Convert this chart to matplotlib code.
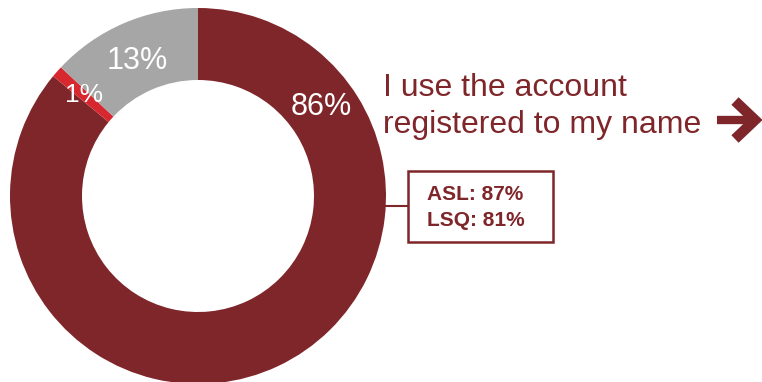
import numpy as np
import matplotlib.pyplot as plt

plt.rcParams['font.family'] = ['Liberation Sans', 'DejaVu Sans']

# account usage shares, clockwise from 12 o'clock
labels = ['Registered to my name', 'Other', 'Someone else']
shares = [86, 1, 13]
colors = ['#7F262A', '#D7282F', '#A6A6A6']

headline = ['I use the account', 'registered to my name']
sub_stats = ['ASL: 87%', 'LSQ: 81%']

dark = '#7F262A'

fig = plt.figure(figsize=(7.62, 3.82), dpi=100)
ax = fig.add_axes([0, 0, 1, 1])
ax.set_xlim(0, 762)
ax.set_ylim(0, 382)
ax.set_aspect('equal')
ax.axis('off')

cx, cy, R, r = 198, 186, 188, 116
wedges, texts, autotexts = ax.pie(
    shares, colors=colors, startangle=90, counterclock=False,
    center=(cx, cy), radius=R, autopct='%d%%', pctdistance=(R + r) / 2 / R,
    wedgeprops=dict(width=R - r, linewidth=0),
    textprops=dict(color='white', fontsize=22))
ax.set_xlim(0, 762)
ax.set_ylim(0, 382)

# big slice label sits near the top-right of the ring
ang = np.deg2rad(90 - 54)
autotexts[0].set_position((cx + (R + r) / 2 * np.cos(ang), cy + (R + r) / 2 * np.sin(ang)))
autotexts[1].set_fontsize(19)
autotexts[2].set_y(autotexts[2].get_position()[1] - 4)

ax.text(383, 286, headline[0], color=dark, fontsize=23, va='baseline', ha='left')
ax.text(383, 249, headline[1], color=dark, fontsize=23, va='baseline', ha='left')

# heavy arrow after the headline
ax.plot([717, 752], [262, 262], color=dark, lw=6, solid_capstyle='butt')
ax.plot([735, 755, 735], [281, 262, 243], color=dark, lw=7.5,
        solid_joinstyle='miter', solid_capstyle='butt')

# callout box
ax.plot([380, 408], [176, 176], color=dark, lw=1.5)
ax.add_patch(plt.Rectangle((408, 140), 145, 71, fill=False, edgecolor=dark, lw=1.8))
ax.text(427, 187, sub_stats[0], color=dark, fontsize=15, fontweight='bold', va='center')
ax.text(427, 162, sub_stats[1], color=dark, fontsize=15, fontweight='bold', va='center')

fig.savefig('out.png', dpi=100)
